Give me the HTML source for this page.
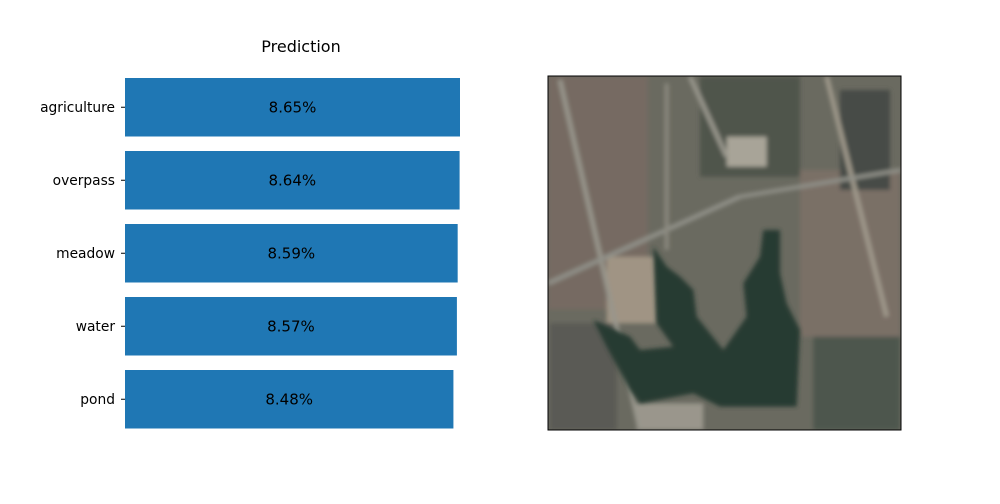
<!DOCTYPE html>
<html><head><meta charset="utf-8"><style>
body{margin:0;background:#fff;width:1000px;height:500px;overflow:hidden;font-family:"DejaVu Sans","Liberation Sans",sans-serif;}
</style></head><body>
<svg width="1000" height="500">
<text x="301" y="52" text-anchor="middle" font-size="16">Prediction</text>
<g id="bars"></g>
<svg x="540" y="70" width="370" height="370" viewBox="0 0 1110 1110">
<defs><clipPath id="c"><rect x="24" y="18" width="1059" height="1062"/></clipPath>
<filter id="b"><feGaussianBlur stdDeviation="6"/></filter></defs>
<g clip-path="url(#c)">
<rect x="24" y="18" width="1059" height="1062" fill="#6a6a60"/>
<g filter="url(#b)">
<rect x="24" y="18" width="300" height="700" fill="#766a62"/>
<rect x="780" y="300" width="300" height="500" fill="#7a6f66"/>
<rect x="480" y="20" width="300" height="300" fill="#4f544c"/>
<rect x="900" y="60" width="150" height="300" fill="#464c46"/>
<rect x="820" y="800" width="260" height="280" fill="#4e564e"/>
<rect x="30" y="760" width="200" height="320" fill="#5a5a54"/>
<rect x="560" y="200" width="120" height="90" fill="#a8a498"/>
<rect x="200" y="560" width="150" height="200" fill="#a09484"/>
<rect x="290" y="1000" width="200" height="80" fill="#9a968c"/>
<line x1="60" y1="30" x2="300" y2="1080" stroke="#98968c" stroke-width="14"/>
<line x1="450" y1="20" x2="560" y2="260" stroke="#98968c" stroke-width="14"/>
<line x1="860" y1="20" x2="1040" y2="740" stroke="#a09a8c" stroke-width="14"/>
<line x1="24" y1="640" x2="600" y2="380" stroke="#909088" stroke-width="14"/>
<line x1="600" y1="380" x2="1083" y2="300" stroke="#909088" stroke-width="12"/>
<line x1="380" y1="40" x2="380" y2="540" stroke="#8c8a80" stroke-width="12"/>
</g>
<polygon filter="url(#b)" fill="#253a30" points="160,750 270,800 300,840 400,830 350,760 340,530 380,590 420,620 460,660 470,740 550,840 620,740 610,640 660,560 670,480 720,480 720,610 740,700 780,780 770,1010 540,1010 460,970 300,1000 270,960 200,830"/>
</g>
<rect x="24" y="18" width="1059" height="1062" fill="none" stroke="#000" stroke-width="3"/>
</svg>
</svg>
<script>
const categories=["agriculture","overpass","meadow","water","pond"];
const values=[8.65,8.64,8.59,8.57,8.48];
const labels=["8.65%","8.64%","8.59%","8.57%","8.48%"];
const NS="http://www.w3.org/2000/svg";
const g=document.getElementById('bars');
const x0=125,scale=335/8.65,yTop=78,step=73,bh=58.5;
const xs=v=>x0+v*scale;
const ys=i=>yTop+i*step;
categories.forEach((c,i)=>{
 const r=document.createElementNS(NS,'rect');
 r.setAttribute('x',x0);r.setAttribute('y',ys(i));
 r.setAttribute('width',xs(values[i])-x0);r.setAttribute('height',bh);
 r.setAttribute('fill','#1f77b4');
 
 
 g.appendChild(r);
 const t=document.createElementNS(NS,'text');
 t.setAttribute('x',(x0+xs(values[i]))/2);t.setAttribute('y',ys(i)+bh/2+5);
 t.setAttribute('text-anchor','middle');t.setAttribute('font-size','15');
 t.textContent=labels[i];
 
 
 g.appendChild(t);
 const tk=document.createElementNS(NS,'line');
 tk.setAttribute('x1',x0-4);tk.setAttribute('x2',x0);
 tk.setAttribute('y1',ys(i)+bh/2);tk.setAttribute('y2',ys(i)+bh/2);
 tk.setAttribute('stroke','#000');
 
 
 g.appendChild(tk);
 const l=document.createElementNS(NS,'text');
 l.setAttribute('x',x0-10);l.setAttribute('y',ys(i)+bh/2+4.5);
 l.setAttribute('text-anchor','end');l.setAttribute('font-size','13.8');
 l.textContent=c;
 
 
 g.appendChild(l);
});
</script>
</body></html>
